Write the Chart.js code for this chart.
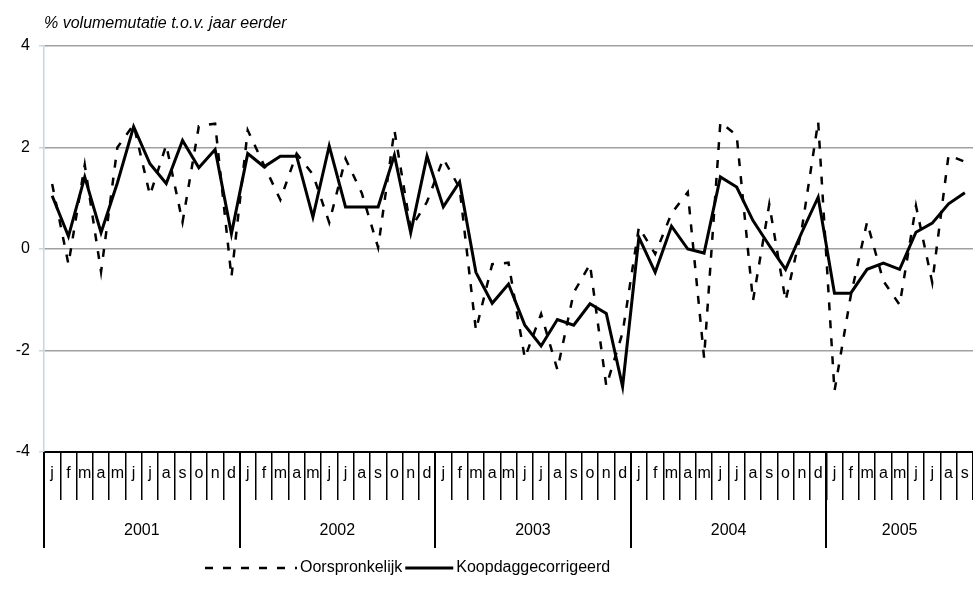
<!DOCTYPE html>
<html>
<head>
<meta charset="utf-8">
<script src="https://cdn.jsdelivr.net/npm/chart.js@4/dist/chart.umd.min.js"></script>
<style>
  html, body { margin: 0; padding: 0; background: #fff; }
  #chart { display: block; }
</style>
</head>
<body>
<canvas id="chart" width="973" height="606"></canvas>
<script>
// maanden per jaar, jan 2001 t/m sep 2005
var months = ['j', 'f', 'm', 'a', 'm', 'j', 'j', 'a', 's', 'o', 'n', 'd'];
var years = ['2001', '2002', '2003', '2004', '2005'];
var monthsPerYear = [12, 12, 12, 12, 9];

var oorspronkelijk = [
	1.28, -0.3, 1.66, -0.45, 2.0, 2.45, 1.06, 2.05, 0.53, 2.42, 2.47, -0.55,
	2.34, 1.65, 0.97, 1.88, 1.47, 0.52, 1.78, 1.1, 0.03, 2.34, 0.4, 0.93,
	1.78, 1.2, -1.6, -0.3, -0.27, -2.15, -1.28, -2.38, -0.86, -0.3, -2.7, -1.65,
	0.43, -0.1, 0.7, 1.12, -2.14, 2.5, 2.24, -1.02, 0.88, -1.02, 0.4, 2.51,
	-2.8, -0.92, 0.53, -0.63, -1.1, 0.85, -0.66, 1.85, 1.72
];
var koopdaggecorrigeerd = [
	1.05, 0.25, 1.42, 0.32, 1.3, 2.41, 1.68, 1.29, 2.14, 1.6, 1.96, 0.3,
	1.88, 1.62, 1.83, 1.83, 0.63, 2.03, 0.83, 0.83, 0.83, 1.85, 0.32, 1.83,
	0.83, 1.32, -0.46, -1.07, -0.69, -1.5, -1.91, -1.39, -1.5, -1.08, -1.27, -2.71,
	0.23, -0.46, 0.45, 0.0, -0.08, 1.42, 1.22, 0.56, 0.07, -0.4, 0.33, 1.02,
	-0.87, -0.87, -0.4, -0.28, -0.4, 0.33, 0.51, 0.89, 1.11
];
var yTicks = [-4, -2, 0, 2, 4];

var labels = [];
years.forEach(function (yr, k) {
	labels = labels.concat(months.slice(0, monthsPerYear[k]));
});

var fontFamily = '"Liberation Sans", Arial, sans-serif';

// tweede laag van de x-as: jaren met scheidingslijnen
var yearAxis = {
	id: 'yearAxis',
	afterDraw: function (chart) {
		var xs = chart.scales.x;
		var ctx = chart.ctx;
		var top = xs.top;
		ctx.save();
		ctx.strokeStyle = '#000';
		ctx.lineWidth = 2;
		ctx.fillStyle = '#000';
		ctx.font = '16px ' + fontFamily;
		ctx.textAlign = 'center';
		ctx.textBaseline = 'middle';
		var start = 0;
		years.forEach(function (yr, k) {
			var n = monthsPerYear[k];
			var x0 = xs.getPixelForValue(start - 0.5);
			var x1 = xs.getPixelForValue(start + n - 0.5);
			ctx.beginPath();
			ctx.moveTo(Math.round(x0), top);
			ctx.lineTo(Math.round(x0), top + 96);
			ctx.stroke();
			ctx.fillText(yr, (x0 + x1) / 2, top + 79);
			start += n;
		});
		ctx.restore();
	}
};

// legenda onder de grafiek, sleutels zoals in het origineel
var lineLegend = {
	id: 'lineLegend',
	afterDraw: function (chart) {
		var ctx = chart.ctx;
		var keyWidths = [92, 48];
		var y = chart.scales.x.bottom + 18;
		var x = 205;
		ctx.save();
		ctx.font = '16px ' + fontFamily;
		ctx.fillStyle = '#000';
		ctx.textAlign = 'left';
		ctx.textBaseline = 'middle';
		chart.data.datasets.forEach(function (ds, i) {
			ctx.beginPath();
			ctx.strokeStyle = ds.borderColor;
			ctx.lineWidth = ds.borderWidth;
			ctx.setLineDash(ds.borderDash || []);
			ctx.moveTo(x, y);
			ctx.lineTo(x + keyWidths[i], y);
			ctx.stroke();
			ctx.setLineDash([]);
			x += keyWidths[i] + 3;
			ctx.fillText(ds.label, x, y);
			x += ctx.measureText(ds.label).width + 3;
		});
		ctx.restore();
	}
};

window.onload = function () {
	var ctx = document.getElementById('chart').getContext('2d');
	window.myLine = new Chart(ctx, {
		type: 'line',
		data: {
			labels: labels,
			datasets: [
				{
					label: 'Oorspronkelijk',
					data: oorspronkelijk,
					borderColor: '#000',
					backgroundColor: '#000',
					borderWidth: 2.5,
					borderDash: [8, 10],
					pointRadius: 0,
					tension: 0,
					fill: false
				},
				{
					label: 'Koopdaggecorrigeerd',
					data: koopdaggecorrigeerd,
					borderColor: '#000',
					backgroundColor: '#000',
					borderWidth: 3,
					pointRadius: 0,
					tension: 0,
					fill: false
				}
			]
		},
		options: {
			responsive: false,
			animation: false,
			layout: { padding: { top: 0, right: 0, bottom: 56, left: 0 } },
			plugins: {
				title: {
					display: true,
					text: '% volumemutatie t.o.v. jaar eerder',
					align: 'start',
					fullSize: false,
					color: '#000',
					font: { family: fontFamily, size: 16, style: 'italic', weight: 'normal' },
					padding: { top: 14.4, bottom: 12.4 }
				},
				legend: { display: false },
				tooltip: { enabled: false }
			},
			scales: {
				x: {
					offset: true,
					grid: {
						offset: true,
						drawOnChartArea: false,
						tickLength: 48,
						color: '#000',
						lineWidth: 1.5
					},
					border: { color: '#000', width: 2 },
					ticks: {
						autoSkip: false,
						maxRotation: 0,
						padding: -36,
						color: '#000',
						font: { family: fontFamily, size: 16 }
					},
					afterFit: function (scale) { scale.height = 98; }
				},
				y: {
					min: -4,
					max: 4,
					afterBuildTicks: function (scale) {
						scale.ticks = yTicks.map(function (v) { return { value: v }; });
					},
					grid: {
						color: '#a0a0a0',
						lineWidth: 1.5,
						tickColor: '#c8d6df',
						tickLength: 5
					},
					border: { color: '#c8d6df', width: 1.5 },
					ticks: {
						padding: 9,
						color: '#000',
						font: { family: fontFamily, size: 16 }
					},
					afterFit: function (scale) { scale.width = 44; }
				}
			}
		},
		plugins: [yearAxis, lineLegend]
	});
};
</script>
</body>
</html>
